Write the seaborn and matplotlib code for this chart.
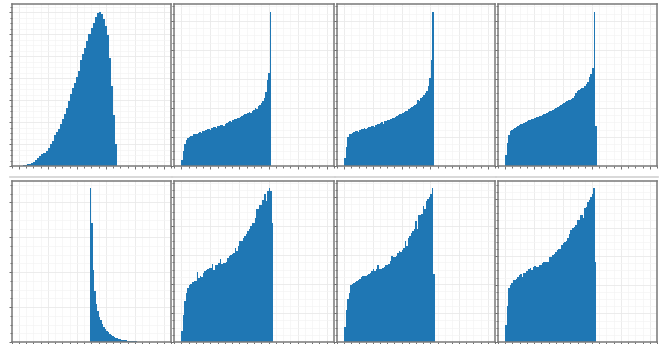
import numpy as np
import pandas as pd
import seaborn as sns
import matplotlib
matplotlib.use("Agg")
import matplotlib.pyplot as plt
from matplotlib.ticker import MultipleLocator, AutoMinorLocator
from matplotlib.lines import Line2D

# ---------------- data (histogram counts per bin) -------------
# bin ranges (start, end) in data units
range_a = (0.00, 3.39)
range_b = (0.00, 3.09)
range_c = (0.00, 3.11)
range_d = (0.00, 3.16)
range_e = (2.45, 5.00)
range_f = (0.00, 3.16)
range_g = (0.00, 3.16)
range_h = (0.00, 3.15)

counts_a = [1, 2, 4, 6, 11, 14, 20, 27, 36, 49, 64, 77, 84, 100, 120, 140, 161, 200,
            223, 242, 274, 307, 340, 377, 424, 468, 507, 540, 578, 620, 686, 725, 766,
            812, 860, 900, 930, 968, 992, 1000, 985, 958, 913, 850, 700, 520, 330, 140]

counts_b = [40, 100, 140, 170, 180, 190, 195, 198, 205, 210, 206, 216, 220, 214, 225,
            230, 234, 238, 243, 236, 248, 252, 254, 250, 260, 262, 265, 268, 262, 276,
            280, 285, 290, 286, 300, 305, 308, 312, 315, 320, 324, 330, 335, 340, 345,
            350, 342, 360, 365, 374, 370, 388, 395, 410, 420, 440, 480, 560, 605, 1000]

counts_c = [55, 125, 190, 205, 210, 212, 218, 225, 228, 222, 235, 238, 240, 245, 238,
            250, 252, 256, 258, 262, 255, 268, 272, 275, 280, 283, 276, 290, 295, 298,
            302, 306, 310, 315, 320, 325, 330, 335, 340, 345, 350, 355, 360, 368, 375,
            382, 390, 398, 405, 430, 425, 440, 450, 462, 475, 490, 520, 570, 690, 1000]

counts_d = [70, 150, 200, 225, 235, 242, 248, 252, 258, 265, 270, 275, 280, 285, 292,
            296, 300, 305, 308, 312, 316, 320, 325, 328, 332, 336, 340, 345, 350, 355,
            360, 366, 372, 378, 385, 392, 398, 405, 410, 415, 420, 428, 432, 438, 440,
            455, 475, 490, 495, 500, 505, 510, 520, 530, 545, 580, 600, 640, 1000, 260]

counts_e = [1000, 775, 470, 330, 245, 200, 165, 140, 118, 100, 85, 72, 62, 52, 45, 38,
            33, 28, 24, 21, 18, 15, 13, 11, 10, 8, 7, 6, 5, 5, 4, 4, 3, 3, 2, 2, 2, 2,
            1, 1, 1, 1, 1, 1, 0.5, 0.5, 0.5, 0.3, 0.3, 0.3]

counts_f = [74, 178, 265, 320, 352, 370, 378, 389, 400, 396, 455, 417, 428, 422, 450,
            461, 470, 476, 480, 483, 509, 470, 504, 504, 515, 543, 511, 515, 515, 520,
            548, 559, 565, 570, 580, 613, 591, 624, 657, 657, 680, 693, 700, 722, 733,
            754, 776, 776, 809, 863, 863, 889, 889, 925, 961, 917, 983, 1000, 983, 776]

counts_g = [96, 211, 280, 320, 374, 380, 385, 390, 396, 402, 410, 422, 428, 428, 432,
            435, 440, 446, 461, 472, 461, 472, 504, 476, 476, 483, 490, 498, 504, 511,
            526, 559, 554, 556, 563, 580, 591, 585, 602, 613, 657, 624, 678, 693, 707,
            722, 733, 787, 733, 824, 824, 830, 885, 863, 917, 928, 946, 961, 1000, 443]

counts_h = [113, 232, 351, 372, 383, 405, 405, 409, 426, 437, 444, 426, 448, 448, 459,
            474, 481, 470, 487, 496, 491, 491, 502, 502, 517, 524, 524, 524, 524, 552,
            556, 567, 574, 589, 600, 604, 604, 632, 643, 654, 660, 675, 703, 729, 740,
            751, 762, 794, 794, 827, 827, 805, 870, 881, 913, 924, 946, 963, 1000, 524]

panels = [
    (range_a, counts_a), (range_b, counts_b), (range_c, counts_c), (range_d, counts_d),
    (range_e, counts_e), (range_f, counts_f), (range_g, counts_g), (range_h, counts_h),
]

# ---------------- style / layout -------------
ticks_per_peak = [7.0, 5.3, 5.3, 5.3, 4.4, 5.3, 5.3, 5.37]
BAR = "#1f77b4"
X_LIM = (-0.25, 5.25)

fig = plt.figure(figsize=(6.6, 3.44), dpi=100, facecolor="white")
W, H = 660.0, 344.0
cols = [(11.7, 171.0), (174.0, 334.0), (337.0, 495.0), (498.0, 657.0)]
rows = [(4.5, 166.0), (180.7, 342.0)]

axes = []
for r, (top, bot) in enumerate(rows):
    for c, (left, right) in enumerate(cols):
        ax = fig.add_axes([left / W, 1 - bot / H, (right - left) / W, (bot - top) / H])
        axes.append(ax)

for ax, (rng, cnt), tpp in zip(axes, panels, ticks_per_peak):
    cnt = np.asarray(cnt, dtype=float)
    n = len(cnt)
    step = (rng[1] - rng[0]) / n
    centers = rng[0] + step * (np.arange(n) + 0.5)
    df = pd.DataFrame({"x": centers, "w": cnt})
    sns.histplot(data=df, x="x", weights="w", bins=n, binrange=rng, ax=ax,
                 element="step", fill=True, color=BAR, alpha=1.0, linewidth=0)
    ax.set_xlim(*X_LIM)
    peak = cnt.max()
    ax.set_ylim(0, peak * 1.05)
    ax.set_xlabel("")
    ax.set_ylabel("")
    ax.xaxis.set_major_locator(MultipleLocator(1.0))
    ax.xaxis.set_minor_locator(AutoMinorLocator(4))
    ax.yaxis.set_major_locator(MultipleLocator(peak / tpp))
    ax.yaxis.set_minor_locator(AutoMinorLocator(4))
    ax.grid(True, which="major", color="#e9e9e9", linewidth=0.6)
    ax.grid(True, which="minor", color="#f4f4f4", linewidth=0.5)
    ax.set_axisbelow(True)
    ax.tick_params(which="both", labelleft=False, labelbottom=False,
                   direction="out", color="#555555", width=0.6)
    ax.tick_params(which="major", length=2.5)
    ax.tick_params(which="minor", length=1.5)
    for s in ax.spines.values():
        s.set_color("#7a7a7a")
        s.set_linewidth(1.1)
    ax.set_facecolor("white")

# faint separator lines above the lower row
for left, right in cols:
    fig.add_artist(Line2D([(left - 2) / W, (right + 1) / W], [1 - 177 / H, 1 - 177 / H],
                          transform=fig.transFigure, color="#d2d2d2", linewidth=1.2))

fig.savefig("out.png", dpi=100, facecolor="white")
